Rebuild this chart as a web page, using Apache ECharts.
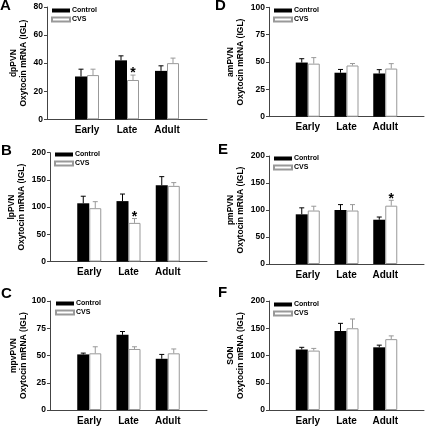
<!DOCTYPE html>
<html><head><meta charset="utf-8">
<script src="https://cdn.jsdelivr.net/npm/echarts@6/dist/echarts.min.js"></script>
<style>html,body{margin:0;padding:0;background:#fff}#c{width:427px;height:426px}</style>
</head><body><div id="c"></div>
<script>
// ---- data ----
const categories = ['Early', 'Late', 'Adult'];
const seriesNames = ['Control', 'CVS'];
const panelLetters = ['A', 'B', 'C', 'D', 'E', 'F'];
const regions = ['dpPVN', 'lpPVN', 'mpvPVN', 'amPVN', 'pmPVN', 'SON'];
const yMaxes = [80, 200, 100, 100, 200, 200];
const yIntervals = [20, 50, 25, 25, 50, 50];

const controlA = [30.5, 42, 34.5];   const controlErrA = [5.2, 3.2, 3.6];
const cvsA = [31.5, 28, 40];         const cvsErrA = [4.2, 3.5, 3.6];   const sigA = [0, 1, 0];
const controlB = [107, 111, 140];    const controlErrB = [13, 13, 16];
const cvsB = [98, 71, 139];          const cvsErrB = [12, 8, 6];        const sigB = [0, 1, 0];
const controlC = [51, 69, 47];       const controlErrC = [1.2, 3, 4];
const cvsC = [52, 56, 52];           const cvsErrC = [6, 2, 4];         const sigC = [0, 0, 0];
const controlD = [49.5, 40.2, 39.5]; const controlErrD = [3.5, 3, 3.5];
const cvsD = [48.5, 46.8, 44];       const cvsErrD = [5.5, 1.8, 4.5];   const sigD = [0, 0, 0];
const controlE = [92, 100, 82];      const controlErrE = [12, 10, 5];
const cvsE = [99, 99, 108];          const cvsErrE = [8, 11, 10];       const sigE = [0, 0, 1];
const controlF = [111, 145, 115];    const controlErrF = [4, 14, 4];
const cvsF = [109, 150, 130];        const cvsErrF = [4, 17, 6];        const sigF = [0, 0, 0];

const controls = [controlA, controlB, controlC, controlD, controlE, controlF];
const controlErrs = [controlErrA, controlErrB, controlErrC, controlErrD, controlErrE, controlErrF];
const cvss = [cvsA, cvsB, cvsC, cvsD, cvsE, cvsF];
const cvsErrs = [cvsErrA, cvsErrB, cvsErrC, cvsErrD, cvsErrE, cvsErrF];
const sigs = [sigA, sigB, sigC, sigD, sigE, sigF];

// ---- layout ----
const grids = [
  {left: 47, top: 7, width: 160, height: 112.3},
  {left: 50, top: 152.7, width: 157, height: 108.8},
  {left: 50, top: 301, width: 157, height: 109},
  {left: 269, top: 7.3, width: 155, height: 109.4},
  {left: 269, top: 156, width: 155, height: 108},
  {left: 269, top: 301, width: 155, height: 109}
];
const legendPos = [
  {left: 51, top: 7}, {left: 54, top: 151}, {left: 55, top: 300},
  {left: 273, top: 7}, {left: 273, top: 155}, {left: 273, top: 301}
];
const letterPos = [
  {left: 0, top: -2}, {left: 1, top: 143}, {left: 1, top: 286},
  {left: 215, top: -2}, {left: 218, top: 142}, {left: 218, top: 285}
];
const nameGaps = [19, 24, 22, 24, 24, 24];
const FONT = '"Liberation Sans", Arial, sans-serif';
const BW = 12;

const padded = arr => ['-'].concat(arr, ['-']);
const xCats = [''].concat(categories, ['']);

function errSeries(i, vals, errs, sig, offset, color) {
  return {
    type: 'custom', name: 'err' + i + offset, xAxisIndex: i, yAxisIndex: i, z: 5,
    silent: true,
    data: vals.map((v, k) => [k + 1, v, errs[k], sig[k]]),
    renderItem: function (params, api) {
      const x = api.value(0), v = api.value(1), e = api.value(2), s = api.value(3);
      const b = api.coord([x, v]);
      const t = api.coord([x, v + e]);
      const cx = b[0] + offset;
      const style = {stroke: color, lineWidth: 1};
      const children = [
        {type: 'line', shape: {x1: cx, y1: b[1], x2: cx, y2: t[1]}, style: style},
        {type: 'line', shape: {x1: cx - 2.5, y1: t[1], x2: cx + 2.5, y2: t[1]}, style: style}
      ];
      if (s) {
        children.push({type: 'text', style: {text: '*', x: cx, y: t[1] - 1.5, align: 'center', verticalAlign: 'middle',
          font: 'bold 14px ' + FONT, fill: '#000'}});
      }
      return {type: 'group', children: children};
    }
  };
}

const option = {
  animation: false,
  backgroundColor: '#fff',
  title: panelLetters.map((l, i) => ({text: l, left: letterPos[i].left, top: letterPos[i].top, padding: 0,
    textStyle: {fontSize: 15, fontWeight: 'bold', color: '#000', fontFamily: FONT}})),
  legend: legendPos.map(p => ({
    left: p.left, top: p.top, orient: 'vertical', padding: 0, itemGap: 2,
    itemWidth: 18, itemHeight: 4, icon: 'rect', selectedMode: false,
    data: seriesNames,
    textStyle: {fontSize: 7, fontWeight: 'bold', color: '#000', fontFamily: FONT, padding: [0, 0, 0, -3]}
  })),
  grid: grids,
  xAxis: grids.map((g, i) => ({
    type: 'category', gridIndex: i, data: xCats, boundaryGap: false,
    axisLine: {lineStyle: {color: '#444', width: 1}},
    axisTick: {show: false},
    axisLabel: {interval: 0, fontSize: 10, fontWeight: 'bold', color: '#000', fontFamily: FONT, margin: 6},
    splitLine: {show: false}
  })),
  yAxis: grids.map((g, i) => ({
    type: 'value', gridIndex: i, min: 0, max: yMaxes[i], interval: yIntervals[i],
    axisLine: {show: true, lineStyle: {color: '#444', width: 1}},
    axisTick: {show: true, length: 3, lineStyle: {color: '#444'}},
    axisLabel: {fontSize: 8.5, fontWeight: 'bold', color: '#000', fontFamily: FONT, margin: 4},
    splitLine: {show: false},
    name: regions[i] + '\nOxytocin mRNA (IGL)', nameLocation: 'middle', nameGap: nameGaps[i], nameRotate: 90,
    nameTextStyle: {fontSize: 8.5, fontWeight: 'bold', color: '#000', fontFamily: FONT, lineHeight: 9.5}
  })),
  series: []
};

grids.forEach((g, i) => {
  option.series.push({
    type: 'bar', name: 'Control', xAxisIndex: i, yAxisIndex: i, data: padded(controls[i]),
    barWidth: BW, barGap: '0%', itemStyle: {color: '#000'}
  });
  option.series.push({
    type: 'bar', name: 'CVS', xAxisIndex: i, yAxisIndex: i, data: padded(cvss[i]),
    barWidth: BW, barGap: '0%', itemStyle: {color: '#fff', borderColor: '#999', borderWidth: 1}
  });
  option.series.push(errSeries(i, controls[i], controlErrs[i], [0, 0, 0], -BW / 2, '#000'));
  option.series.push(errSeries(i, cvss[i], cvsErrs[i], sigs[i], BW / 2, '#999'));
});

const chart = echarts.init(document.getElementById('c'), null, {renderer: 'canvas'});
chart.setOption(option);
</script>
</body></html>
